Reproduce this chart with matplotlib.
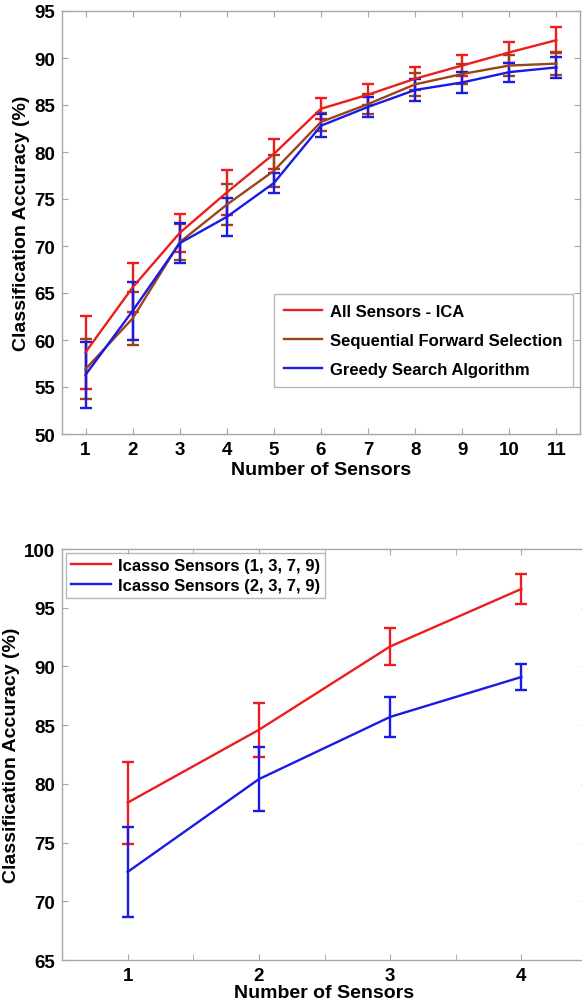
import numpy as np
import matplotlib.pyplot as plt
from matplotlib.lines import Line2D

plt.rcParams['font.family'] = ['Liberation Sans', 'DejaVu Sans']
plt.rcParams['font.weight'] = 'bold'

# top panel data
n_sensors = np.arange(1, 12)
ica_mean = [58.7, 65.6, 71.4, 75.7, 79.8, 84.6, 86.1, 87.8, 89.2, 90.6, 91.9]
ica_err = [3.9, 2.6, 2.0, 2.4, 1.6, 1.1, 1.1, 1.2, 1.1, 1.1, 1.4]
sfs_mean = [56.9, 62.3, 70.4, 74.4, 78.0, 83.2, 85.1, 87.2, 88.3, 89.2, 89.4]
sfs_err = [3.2, 2.8, 1.9, 2.2, 1.7, 1.0, 1.1, 1.2, 1.1, 1.1, 1.2]
gsa_mean = [56.3, 63.1, 70.3, 73.1, 76.7, 82.8, 84.8, 86.6, 87.4, 88.5, 89.0]
gsa_err = [3.5, 3.1, 2.1, 2.0, 1.1, 1.2, 1.1, 1.2, 1.1, 1.0, 1.1]

# bottom panel data
n_icasso = np.arange(1, 5)
icasso_a_mean = [78.4, 84.6, 91.7, 96.6]
icasso_a_err = [3.5, 2.3, 1.6, 1.3]
icasso_b_mean = [72.5, 80.4, 85.7, 89.1]
icasso_b_err = [3.8, 2.7, 1.7, 1.1]

RED = '#ee1c1c'
BROWN = '#9c4418'
BLUE = '#1a1ae6'
GREY = '#a6a6a6'

fig = plt.figure(figsize=(5.82, 10.03), dpi=100)


def style(ax):
    for s in ax.spines.values():
        s.set_color(GREY)
        s.set_linewidth(1.0)
    ax.tick_params(which='both', direction='in', top=True, right=True,
                   color=GREY, labelsize=13.5, pad=5, length=4)
    for lab in ax.get_xticklabels() + ax.get_yticklabels():
        lab.set_fontweight('bold')


def draw(ax, x, series):
    handles = []
    for m, e, c, lbl in series:
        ax.errorbar(x, m, yerr=e, color=c, lw=1.7, capsize=4,
                    capthick=1.7, elinewidth=1.7)
        handles.append(Line2D([], [], color=c, lw=1.7, label=lbl))
    return handles


ax1 = fig.add_axes([62 / 582, 1 - 435 / 1003, 518 / 582, 423 / 1003])
h1 = draw(ax1, n_sensors,
          [(ica_mean, ica_err, RED, 'All Sensors - ICA'),
           (sfs_mean, sfs_err, BROWN, 'Sequential Forward Selection'),
           (gsa_mean, gsa_err, BLUE, 'Greedy Search Algorithm')])
ax1.set_xlim(0.5, 11.5)
ax1.set_ylim(50, 95)
ax1.set_xticks(n_sensors)
ax1.set_yticks(np.arange(50, 96, 5))
style(ax1)
ax1.set_xlabel('Number of Sensors', fontsize=14, fontweight='bold', labelpad=2)
ax1.set_ylabel('Classification Accuracy (%)', fontsize=14, fontweight='bold', labelpad=3)
leg1 = ax1.legend(handles=h1, loc='lower right', bbox_to_anchor=(0.986, 0.111),
                  borderaxespad=0,
                  prop={'weight': 'bold', 'size': 12}, fancybox=False,
                  edgecolor=GREY, handlelength=2.3, labelspacing=0.85,
                  borderpad=0.6, handletextpad=0.5)
leg1.get_frame().set_linewidth(1.0)

ax2 = fig.add_axes([62 / 582, 1 - 961 / 1003, 525 / 582, 411 / 1003])
h2 = draw(ax2, n_icasso,
          [(icasso_a_mean, icasso_a_err, RED, 'Icasso Sensors (1, 3, 7, 9)'),
           (icasso_b_mean, icasso_b_err, BLUE, 'Icasso Sensors (2, 3, 7, 9)')])
ax2.set_xlim(0.5, 4.5)
ax2.set_ylim(65, 100)
ax2.set_xticks(n_icasso)
ax2.set_xticks(np.arange(1.5, 4.0, 1.0), minor=True)
ax2.set_yticks(np.arange(65, 101, 5))
style(ax2)
ax2.set_xlabel('Number of Sensors', fontsize=14, fontweight='bold', labelpad=0)
ax2.set_ylabel('Classification Accuracy (%)', fontsize=14, fontweight='bold', labelpad=3)
leg2 = ax2.legend(handles=h2, loc='upper left', bbox_to_anchor=(0.008, 0.99),
                  borderaxespad=0,
                  prop={'weight': 'bold', 'size': 12}, fancybox=False,
                  edgecolor=GREY, handlelength=2.4, labelspacing=0.3,
                  borderpad=0.3, handletextpad=0.4)
leg2.get_frame().set_linewidth(1.0)

fig.savefig('out.png', dpi=100)
